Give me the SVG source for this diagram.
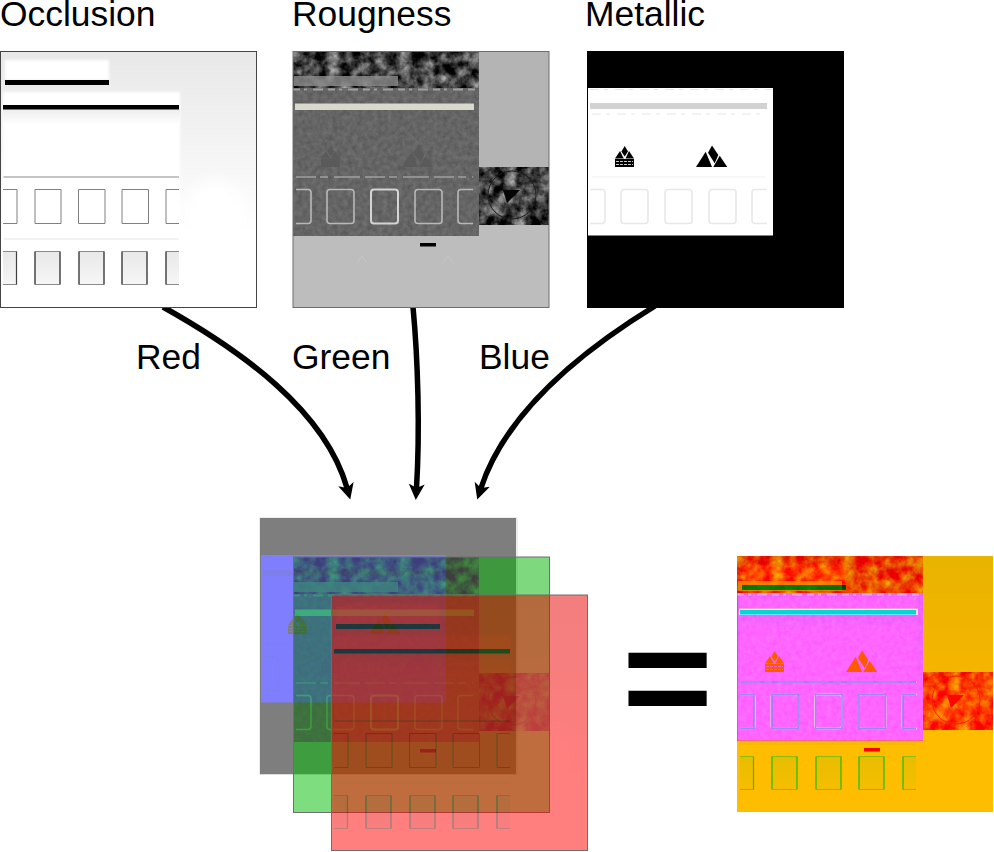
<svg xmlns="http://www.w3.org/2000/svg" width="994" height="852" viewBox="0 0 994 852">
<style>
text{font-family:"Liberation Sans",Arial,sans-serif;font-size:35.400px;fill:#000}
.arrow{fill:none;stroke:#000;stroke-width:5.500;marker-end:url(#head)}
.edge{fill:none;stroke:#6e6e6e;stroke-width:1}
.occw{fill:none;stroke:#808080;stroke-width:1}
.occd{fill:none;stroke:#8a8a8a;stroke-width:1}
.occs{fill:none;stroke:#404040;stroke-width:1.200}
.rw{fill:none;stroke:#b8b8b8;stroke-width:1.600}
.mw{fill:none;stroke:#e8e8e8;stroke-width:1.600}
.half{opacity:.5}
.screen{mix-blend-mode:screen}
</style>
<defs>
<marker id="head" markerUnits="userSpaceOnUse" markerWidth="18" markerHeight="18" viewBox="0 -9 18 18" refX="4" refY="0" orient="auto"><path d="M16 0L0-8L4 0L0 8Z" fill="#000"/></marker>
<filter id="soft" x="0" y="0" width="1" height="1" color-interpolation-filters="sRGB"><feGaussianBlur stdDeviation=".6"/></filter>
<filter id="glow" x="-5%" y="-5%" width="110%" height="110%" color-interpolation-filters="sRGB"><feGaussianBlur stdDeviation="1.500"/></filter>
<filter id="chR" x="0" y="0" width="1" height="1" color-interpolation-filters="sRGB"><feGaussianBlur stdDeviation=".6"/><feColorMatrix values="1 0 0 0 0 0 0 0 0 0 0 0 0 0 0 0 0 0 1 0"/></filter>
<filter id="chG" x="0" y="0" width="1" height="1" color-interpolation-filters="sRGB"><feGaussianBlur stdDeviation=".6"/><feColorMatrix values="0 0 0 0 0 0 1 0 0 0 0 0 0 0 0 0 0 0 1 0"/></filter>
<filter id="chB" x="0" y="0" width="1" height="1" color-interpolation-filters="sRGB"><feGaussianBlur stdDeviation=".6"/><feColorMatrix values="0 0 0 0 0 0 0 0 0 0 0 0 1 0 0 0 0 0 1 0"/></filter>
<filter id="noiseA" x="0" y="0" width="1" height="1" color-interpolation-filters="sRGB"><feTurbulence type="fractalNoise" baseFrequency=".085" numOctaves="4" seed="4"/><feColorMatrix values="1.200 0 0 0 -.34 1.200 0 0 0 -.34 1.200 0 0 0 -.34 0 0 0 0 1"/></filter>
<filter id="noiseB" x="0" y="0" width="1" height="1" color-interpolation-filters="sRGB"><feTurbulence type="fractalNoise" baseFrequency=".2" numOctaves="3" seed="9"/><feColorMatrix values=".14 0 0 0 .325 .14 0 0 0 .325 .14 0 0 0 .325 0 0 0 0 1"/></filter>
<linearGradient id="occbg" x1="0" y1="0" x2="0" y2="1"><stop offset="0" stop-color="#e8e8e8"/><stop offset=".45" stop-color="#f6f6f6"/><stop offset=".7" stop-color="#fff"/></linearGradient>
<radialGradient id="occblob"><stop offset="0" stop-color="#fff"/><stop offset=".5" stop-color="#fff"/><stop offset="1" stop-color="#fff" stop-opacity="0"/></radialGradient>
<linearGradient id="occsh" x1="0" y1="0" x2="0" y2="1"><stop offset="0" stop-color="#ededed"/><stop offset="1" stop-color="#fff"/></linearGradient>
<linearGradient id="occin" x1="0" y1="0" x2="0" y2="1"><stop offset="0" stop-color="#e8e8e8"/><stop offset="1" stop-color="#f6f6f6"/></linearGradient>
<g id="bigLogo"><path d="M109 116L118.700 100.700L125 116Z"/><path d="M125 94.500L131.300 104L127.700 112.300L121 101.700Z"/><path d="M132.700 104.700L126.300 116H140.300Z"/></g>
<g id="smallLogo"><path d="M28 107.500L33 100L36.800 107.500Z"/><path d="M37.700 95L41 100.500L37.700 105.500L34.400 100.500Z"/><path d="M42 100L47 107.500H38.500Z"/><rect x="28" y="108" width="19" height="8"/></g>

<g id="tex-occ">
<rect width="256" height="256" fill="url(#occbg)"/>
<circle cx="215" cy="160" r="40" fill="url(#occblob)"/>
<g filter="url(#glow)"><rect x="3" y="41" width="177" height="212" fill="#fff"/><rect x="5" y="9" width="104" height="20" fill="#fff"/></g>
<rect x="3" y="58" width="177" height="16" fill="url(#occsh)"/>
<rect x="5" y="29" width="104" height="5" fill="#000"/>
<rect x="3" y="54" width="176" height="4.500" fill="#000"/>
<path d="M3.500 126H179" stroke="#8c8c8c" stroke-width="1.200"/>
<path d="M3.500 188H179" stroke="#e6e6e6" stroke-width="1.200"/>
<path class="occw" d="M3 138.500H17V172.500H3M35 138.500H61V172.500H35ZM78.500 138.500H105V172.500H78.500ZM122 138.500H148.500V172.500H122ZM179 138.500H166V172.500H179"/>
<path fill="url(#occin)" d="M3 200H17V234H3ZM35 200H60V234H35ZM79 200H104V234H79ZM122 200H147V234H122ZM166 200H179V234H166Z"/>
<path class="occd" d="M3 200.500H16.500V233.500H3M35 200.500H60V233.500H35ZM79 200.500H104V233.500H79ZM122 200.500H147V233.500H122ZM179 200.500H166V233.500H179"/>
<path class="occs" d="M16.500 200.500V233.500M35 200.500V233.500M60 200.500V233.500M79 200.500V233.500M104 200.500V233.500M122 200.500V233.500M147 200.500V233.500M166 200.500V233.500"/>
</g>

<g id="tex-rou">
<rect width="256" height="256" fill="#bdbdbd"/>
<rect x="186" width="70" height="116" fill="#b4b4b4"/>
<rect width="186" height="184.500" filter="url(#noiseB)"/>
<rect width="186" height="37" filter="url(#noiseA)"/>
<rect x="186" y="116" width="70" height="58" filter="url(#noiseA)"/>
<rect x="1" y="25" width="104" height="10" fill="#8f8f8f" opacity=".8"/>
<circle cx="219" cy="144" r="24" fill="none" stroke="#1c1c1c" stroke-width="1"/>
<path d="M210 139H227L214 152Z" fill="#050505"/>
<path d="M2 52.500H181V59H2Z" fill="#d8d8cc"/>
<path d="M0 38.500H186" stroke="#a0a0a0" stroke-width="2" stroke-dasharray="7 4 3 6 10 5"/>
<path d="M3 126H180" stroke="#a0a0a0" stroke-width="1.500" stroke-dasharray="20 4 8 6 26 5"/>
<use href="#bigLogo" fill="#5a5a5a"/>
<use href="#smallLogo" fill="#5a5a5a"/>
<path class="rw" d="M3 138.500H15Q18 138.500 18 141.500V169.500Q18 172.500 15 172.500H3M180 138.500H168Q165 138.500 165 141.500V169.500Q165 172.500 168 172.500H180"/>
<rect x="34" y="138.500" width="27" height="34" rx="3" class="rw"/>
<rect x="78" y="138.500" width="27" height="34" rx="3" class="rw" style="stroke:#d4d4d4;stroke-width:2"/>
<rect x="122" y="138.500" width="27" height="34" rx="3" class="rw"/>
<rect x="127" y="192" width="16" height="3.500" fill="#000"/>
<path d="M64 212L69 205L74 212M150 212L155 205L160 212" fill="none" stroke="#c6c6c6"/>
</g>

<g id="tex-met">
<rect width="256" height="256" fill="#000"/>
<rect x="1" y="37" width="185" height="147.500" fill="#fff"/>
<rect x="3" y="52" width="177" height="6" fill="#d2d2d2"/>
<path d="M3 38.500H186M5 63H180" stroke="#e8e8e8" stroke-width="1.200" stroke-dasharray="9 5 4 7"/>
<path d="M5 126H178" stroke="#efefef" stroke-width="1.200"/>
<use href="#bigLogo" fill="#000"/>
<use href="#smallLogo" fill="#000"/>
<path d="M29 110.500H46M29 113.500H46" stroke="#c8c8c8" stroke-width="1.200" stroke-dasharray="3 1"/>
<path class="mw" d="M3 138.500H15Q18 138.500 18 141.500V169.500Q18 172.500 15 172.500H3M180 138.500H168Q165 138.500 165 141.500V169.500Q165 172.500 168 172.500H180"/>
<rect x="34" y="138.500" width="27" height="34" rx="3" class="mw"/>
<rect x="78" y="138.500" width="27" height="34" rx="3" class="mw"/>
<rect x="122" y="138.500" width="27" height="34" rx="3" class="mw"/>
</g>
</defs>

<rect width="994" height="852" fill="#fff"/>

<g id="connectors">
<path class="arrow" d="M163 307C240 350 325 410 347 488"/>
<path class="arrow" d="M413 307C418 360 420 430 416.500 488"/>
<path class="arrow" d="M655 306C575 355 505 415 481 488"/>
<text x="136" y="369">Red</text>
<text x="292" y="369">Green</text>
<text x="479" y="369">Blue</text>
</g>

<g id="occlusion">
<text x="0" y="26">Occlusion</text>
<use href="#tex-occ" transform="translate(0 51)" filter="url(#soft)"/>
<rect x=".5" y="51.500" width="256" height="256" class="edge" style="stroke:#444"/>
</g>
<g id="rougness">
<text x="292" y="26">Rougness</text>
<use href="#tex-rou" transform="translate(293 51)" filter="url(#soft)"/>
<rect x="293" y="51.500" width="256" height="256" class="edge"/>
</g>
<g id="metallic">
<text x="585" y="26">Metallic</text>
<use href="#tex-met" transform="translate(587 51)" filter="url(#soft)"/>
<rect x="587.500" y="51.500" width="256" height="256" fill="none" stroke="#000"/>
</g>

<g id="stack">
<g id="layer-blue"><use href="#tex-met" transform="translate(260 518)" filter="url(#chB)" class="half"/><rect x="260" y="518" width="257" height="256.500" class="edge" opacity=".25"/></g>
<g id="layer-green"><use href="#tex-rou" transform="translate(293 557)" filter="url(#chG)" class="half"/><rect x="293.500" y="557" width="256" height="255.500" class="edge"/></g>
<g id="layer-red"><use href="#tex-occ" transform="translate(331 595)" filter="url(#chR)" class="half"/><rect x="331.500" y="595" width="256" height="255.500" class="edge"/></g>
</g>

<g id="equals"><text transform="translate(622 726) scale(1 .9)" style="font-size:156px;font-weight:bold">=</text></g>

<g id="result" style="isolation:isolate">
<rect x="738" y="557" width="254" height="254" fill="#000"/>
<use href="#tex-occ" transform="translate(737 556)" filter="url(#chR)" class="screen"/>
<use href="#tex-rou" transform="translate(737 556)" filter="url(#chG)" class="screen"/>
<use href="#tex-met" transform="translate(737 556)" filter="url(#chB)" class="screen"/>
<g transform="translate(737 556)" fill="none" stroke="#9d84f2" stroke-width="1.600" opacity=".9">
<path d="M3 126H179"/>
<path d="M3 138.500H17V172.500H3M35 138.500H61V172.500H35ZM78.500 138.500H105V172.500H78.500ZM122 138.500H148.500V172.500H122ZM179 138.500H166V172.500H179"/>
</g>
</g>
</svg>
